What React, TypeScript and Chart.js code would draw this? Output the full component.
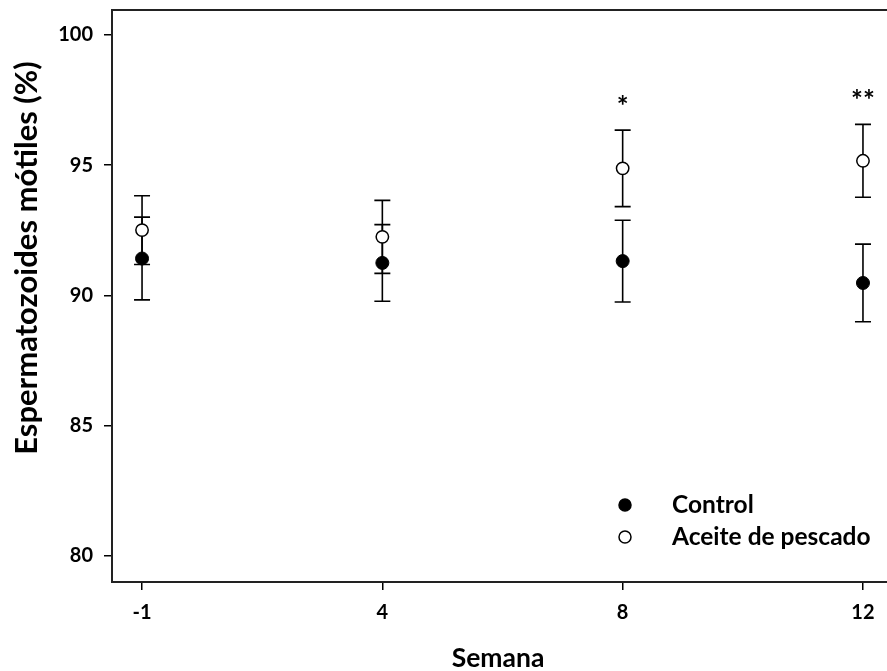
import React, { useEffect, useRef } from "react";
import { Chart, registerables } from "chart.js";
Chart.register(...registerables);

const weeks = ["-1", "4", "8", "12"];
const seriesLabels = ["Control", "Aceite de pescado"];
const controlMean = [91.42, 91.25, 91.32, 90.48];
const controlErr = [1.59, 1.47, 1.57, 1.49];
const fishMean = [92.51, 92.25, 94.88, 95.17];
const fishErr = [1.32, 1.4, 1.47, 1.4];
const significance = ["", "", "*", "**"];
const yTicks = [80, 85, 90, 95, 100];
const xTitle = "Semana";
const yTitle = "Espermatozoides mótiles (%)";

const FONT = "Lato";
const INK = "#000";

const errorBars = {
  id: "errorBars",
  beforeDatasetsDraw(chart: any) {
    const { ctx } = chart;
    const y = chart.scales.y;
    ctx.save();
    ctx.strokeStyle = INK;
    ctx.lineWidth = 1.6;
    chart.data.datasets.forEach((ds: any, di: number) => {
      const meta = chart.getDatasetMeta(di);
      ds.data.forEach((p: any, i: number) => {
        const el = meta.data[i];
        if (!el) return;
        const e = ds.errors[i];
        const yt = y.getPixelForValue(p.y + e);
        const yb = y.getPixelForValue(p.y - e);
        const x = el.x;
        const cap = 8;
        ctx.beginPath();
        ctx.moveTo(x, yt);
        ctx.lineTo(x, yb);
        ctx.moveTo(x - cap, yt);
        ctx.lineTo(x + cap, yt);
        ctx.moveTo(x - cap, yb);
        ctx.lineTo(x + cap, yb);
        ctx.stroke();
      });
    });
    ctx.restore();
  },
};

function drawCentered(ctx: any, text: string, cx: number, cy: number) {
  ctx.textAlign = "center";
  ctx.textBaseline = "alphabetic";
  const m = ctx.measureText(text);
  const asc = m.actualBoundingBoxAscent;
  const desc = m.actualBoundingBoxDescent;
  ctx.fillText(text, cx, cy + (asc - desc) / 2);
}

const extras = {
  id: "extras",
  afterDraw(chart: any) {
    const { ctx, chartArea } = chart;
    const y = chart.scales.y;
    const x = chart.scales.x;
    ctx.save();
    // top frame line
    ctx.strokeStyle = "#222";
    ctx.lineWidth = 2;
    ctx.beginPath();
    ctx.moveTo(chartArea.left, chartArea.top);
    ctx.lineTo(chartArea.right, chartArea.top);
    ctx.stroke();

    // significance stars
    ctx.fillStyle = INK;
    ctx.font = `bold 28px ${FONT}`;
    significance.forEach((s, i) => {
      if (!s) return;
      const top = y.getPixelForValue(fishMean[i] + fishErr[i]);
      drawCentered(ctx, s, x.getPixelForValue(i), top - 30);
    });

    // x axis title
    ctx.font = `bold 26.5px ${FONT}`;
    ctx.textAlign = "center";
    ctx.textBaseline = "alphabetic";
    ctx.fillText(xTitle, 498, 667);

    // y axis title
    ctx.save();
    ctx.translate(37, 258);
    ctx.rotate(-Math.PI / 2);
    ctx.font = `bold 31px ${FONT}`;
    ctx.textAlign = "center";
    ctx.textBaseline = "alphabetic";
    ctx.fillText(yTitle, 0, 0);
    ctx.restore();

    // legend
    const rows = [505, 537];
    chart.data.datasets.forEach((ds: any, di: number) => {
      const cy = rows[di];
      ctx.beginPath();
      ctx.arc(625, cy, 6, 0, Math.PI * 2);
      ctx.fillStyle = ds.pointBackgroundColor;
      ctx.fill();
      ctx.lineWidth = 1.5;
      ctx.strokeStyle = ds.pointBorderColor;
      ctx.stroke();
      ctx.fillStyle = INK;
      ctx.font = `bold 24.5px ${FONT}`;
      ctx.textAlign = "left";
      ctx.textBaseline = "middle";
      ctx.fillText(ds.label, 672, cy);
    });
    ctx.restore();
  },
};

export default function App() {
  const ref = useRef<HTMLCanvasElement | null>(null);
  useEffect(() => {
    document.body.style.margin = "0";
    document.body.style.overflow = "hidden";
    document.documentElement.style.overflow = "hidden";
    if (!ref.current) return;
    const tickFont = { family: FONT, size: 20, weight: "bold" as const };
    const chart = new Chart(ref.current, {
      type: "scatter",
      data: {
        datasets: [
          {
            label: seriesLabels[0],
            data: controlMean.map((v, i) => ({ x: i, y: v })),
            errors: controlErr,
            pointBackgroundColor: "#000",
            pointBorderColor: "#000",
            pointBorderWidth: 1,
            pointRadius: 6.5,
            showLine: false,
          } as any,
          {
            label: seriesLabels[1],
            data: fishMean.map((v, i) => ({ x: i, y: v })),
            errors: fishErr,
            pointBackgroundColor: "#fff",
            pointBorderColor: "#000",
            pointBorderWidth: 1.5,
            pointRadius: 6.2,
            showLine: false,
          } as any,
        ],
      },
      options: {
        animation: false,
        responsive: true,
        maintainAspectRatio: false,
        layout: { autoPadding: false, padding: { top: 10, right: 0, bottom: 0, left: 0 } },
        plugins: { legend: { display: false }, tooltip: { enabled: false } },
        scales: {
          x: {
            type: "linear",
            min: -0.125,
            max: 3.1,
            afterBuildTicks: (axis: any) => {
              axis.ticks = weeks.map((_, i) => ({ value: i }));
            },
            afterFit: (s: any) => {
              s.height = 89;
              s.paddingLeft = 0;
              s.paddingRight = 0;
            },
            ticks: {
              callback: (v: any) => weeks[v],
              font: tickFont,
              color: INK,
              padding: 11,
              autoSkip: false,
              maxRotation: 0,
            },
            grid: {
              drawOnChartArea: false,
              drawTicks: true,
              tickLength: 8,
              color: INK,
              lineWidth: 1.5,
            },
            border: { display: true, color: "#222", width: 2 },
          },
          y: {
            min: 79,
            max: 100.96,
            afterBuildTicks: (axis: any) => {
              axis.ticks = yTicks.map((v) => ({ value: v }));
            },
            afterFit: (s: any) => {
              s.width = 112;
              s.paddingTop = 0;
              s.paddingBottom = 0;
            },
            ticks: { font: tickFont, color: INK, padding: 11 },
            grid: {
              drawOnChartArea: false,
              drawTicks: true,
              tickLength: 8,
              color: INK,
              lineWidth: 1.5,
            },
            border: { display: true, color: "#222", width: 2 },
          },
        },
      } as any,
      plugins: [errorBars, extras],
    });
    if ((document as any).fonts) {
      (document as any).fonts
        .load(`bold 18px ${FONT}`)
        .then(() => chart.update())
        .catch(() => {});
    }
    return () => chart.destroy();
  }, []);
  return (
    <div style={{ position: "relative", width: 887, height: 671 }}>
      <canvas ref={ref} style={{ display: "block" }} />
    </div>
  );
}
